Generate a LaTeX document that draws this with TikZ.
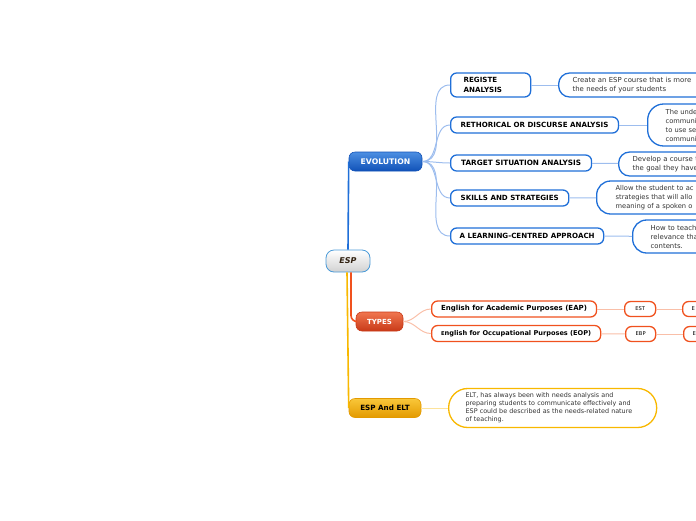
\documentclass[tikz,border=0pt]{standalone}
\usepackage{fontspec}
\setmainfont{DejaVu Sans}
\definecolor{bblue}{HTML}{1F6FD8}
\definecolor{lblue}{HTML}{9DBDEE}
\definecolor{evtop}{HTML}{4C8FE2}
\definecolor{evbot}{HTML}{1152B8}
\definecolor{ored}{HTML}{F0511E}
\definecolor{lored}{HTML}{F9BFA8}
\definecolor{tytop}{HTML}{F07650}
\definecolor{tybot}{HTML}{C93A18}
\definecolor{yel}{HTML}{F8B800}
\definecolor{lyel}{HTML}{FDE39A}
\definecolor{yetop}{HTML}{F9C73A}
\definecolor{yebot}{HTML}{E39A00}
\definecolor{espb}{HTML}{4A9AD8}
\definecolor{txt}{HTML}{333333}
\tikzset{
  main/.style={rounded corners=6, line width=0.6, font=\bfseries\fontsize{7.2}{8}\selectfont, minimum height=19, inner xsep=0, inner ysep=0},
  child/.style={draw, fill=white, line width=1.3, rounded corners=6, font=\bfseries\fontsize{7.1}{8}\selectfont, inner ysep=0, minimum height=16, anchor=west, align=left},
  leaf/.style={draw, fill=white, line width=1.3, font=\fontsize{6.9}{9}\selectfont, text=txt, anchor=west, align=left, inner ysep=0},
  link/.style={line width=1},
}
\begin{document}
\begin{tikzpicture}[x=1pt,y=-1pt]
\useasboundingbox (0,0) rectangle (696,520);
\clip (0,0) rectangle (696,520);
% central
\node[draw=espb, line width=0.8, rounded corners=8, top color=white, bottom color=black!18, minimum width=44, minimum height=22, inner sep=0, font=\bfseries\itshape\fontsize{8}{9}\selectfont, text=black!75!brown] (esp) at (348,261) {ESP};
% main topics
\node[main, draw=evbot, top color=evtop, bottom color=evbot, text=white, minimum width=73, font=\bfseries\fontsize{7.7}{8}\selectfont] (evo) at (385.5,161.5) {EVOLUTION};
\node[main, draw=tybot, top color=tytop, bottom color=tybot, text=white, minimum width=47, font=\bfseries\fontsize{7}{8}\selectfont] (types) at (379.5,321.5) {TYPES};
\node[main, draw=yebot, top color=yetop, bottom color=yebot, text=black, minimum width=72] (elt) at (385,408) {ESP And ELT};
% main connectors
\draw[bblue, line width=1.6] (esp.north) -- (evo.west);
\draw[ored, line width=1.6, rounded corners=6] ([xshift=3]esp.south) |- (types.west);
\draw[yel, line width=1.6] ([xshift=-1]esp.south) -- (elt.west);
% evolution children
\begin{scope}[every node/.append style={draw=bblue}]
\node[child, text width=54, inner xsep=13, minimum height=24, font=\bfseries\fontsize{7.1}{9.5}\selectfont] (c1) at (450,85) {REGISTE\\ANALYSIS};
\node[child, inner xsep=10] (c2) at (450,125) {RETHORICAL OR DISCURSE ANALYSIS};
\node[child, inner xsep=10.5, font=\bfseries\fontsize{7.3}{8}\selectfont] (c3) at (450,163) {TARGET SITUATION ANALYSIS};
\node[child, inner xsep=10] (c4) at (450,198) {SKILLS AND STRATEGIES};
\node[child, inner xsep=9] (c5) at (450,236) {A LEARNING-CENTRED APPROACH};
\node[leaf, rounded corners=11, minimum height=24, inner xsep=14, text width=170] (l1) at (558,85) {Create an ESP course that is more\\the needs of your students};
\node[leaf, rounded corners=16, minimum height=42, inner xsep=18, text width=170, font=\fontsize{6.7}{9}\selectfont] (l2) at (647,125) {The unde\\communi\\to use se\\communi};
\node[leaf, rounded corners=11, minimum height=24, inner xsep=14, text width=170] (l3) at (618,164) {Develop a course t\\the goal they have};
\node[leaf, rounded corners=14, minimum height=33, inner xsep=19, text width=170, font=\fontsize{6.7}{9}\selectfont] (l4) at (596,197.5) {Allow the student to ac\\strategies that will allo\\meaning of a spoken o};
\node[leaf, rounded corners=14, minimum height=33, inner xsep=18, text width=170] (l5) at (632,236.5) {How to teach\\relevance tha\\contents.};
\end{scope}
\begin{scope}[lblue, link]
\foreach \c in {c1,c2,c3,c4,c5} \draw (evo.east) to[out=0,in=180] (\c.west);
\draw (c1) -- (l1); \draw (c2) -- (l2); \draw (c3) -- (l3); \draw (c4) -- (l4); \draw (c5) -- (l5);
\end{scope}
% types children
\begin{scope}[every node/.append style={draw=ored}]
\node[child, inner xsep=9.5, font=\bfseries\fontsize{7}{8}\selectfont] (t1) at (431,309) {English for Academic Purposes (EAP)};
\node[child, inner xsep=9.5, font=\bfseries\fontsize{6.6}{8}\selectfont] (t2) at (431,333.5) {{\fontsize{5.2}{8}\selectfont E}nglish for Occupational Purposes (EOP)};
\node[child, font=\fontsize{5.2}{6}\selectfont, minimum width=31, minimum height=15, inner xsep=0] (t3) at (624,309) {EST};
\node[child, font=\fontsize{5.2}{6}\selectfont, minimum width=30, minimum height=15, inner xsep=0] (t4) at (625,334) {EBP};
\node[child, font=\fontsize{5.2}{6}\selectfont, minimum height=15, inner xsep=9, text width=40] (t5) at (682,309) {E};
\node[child, font=\fontsize{5.2}{6}\selectfont, minimum height=15, inner xsep=9, text width=40] (t6) at (683,334) {E};
\end{scope}
\begin{scope}[lored, link]
\draw (types.east) to[out=0,in=180] (t1.west);
\draw (types.east) to[out=0,in=180] (t2.west);
\draw (t1) -- (t3); \draw (t2) -- (t4); \draw (t3) -- (t5); \draw (t4) -- (t6);
\end{scope}
% ESP and ELT leaf
\node[leaf, draw=yel, rounded corners=19, minimum height=39, minimum width=208, inner xsep=17, text width=174, font=\fontsize{6.4}{8}\selectfont] (e1) at (448,408) {ELT, has always been with needs analysis and\\preparing students to communicate effectively and\\ESP could be described as the needs-related nature\\of teaching.};
\draw[lyel, link] (elt) -- (e1);
\end{tikzpicture}
\end{document}
